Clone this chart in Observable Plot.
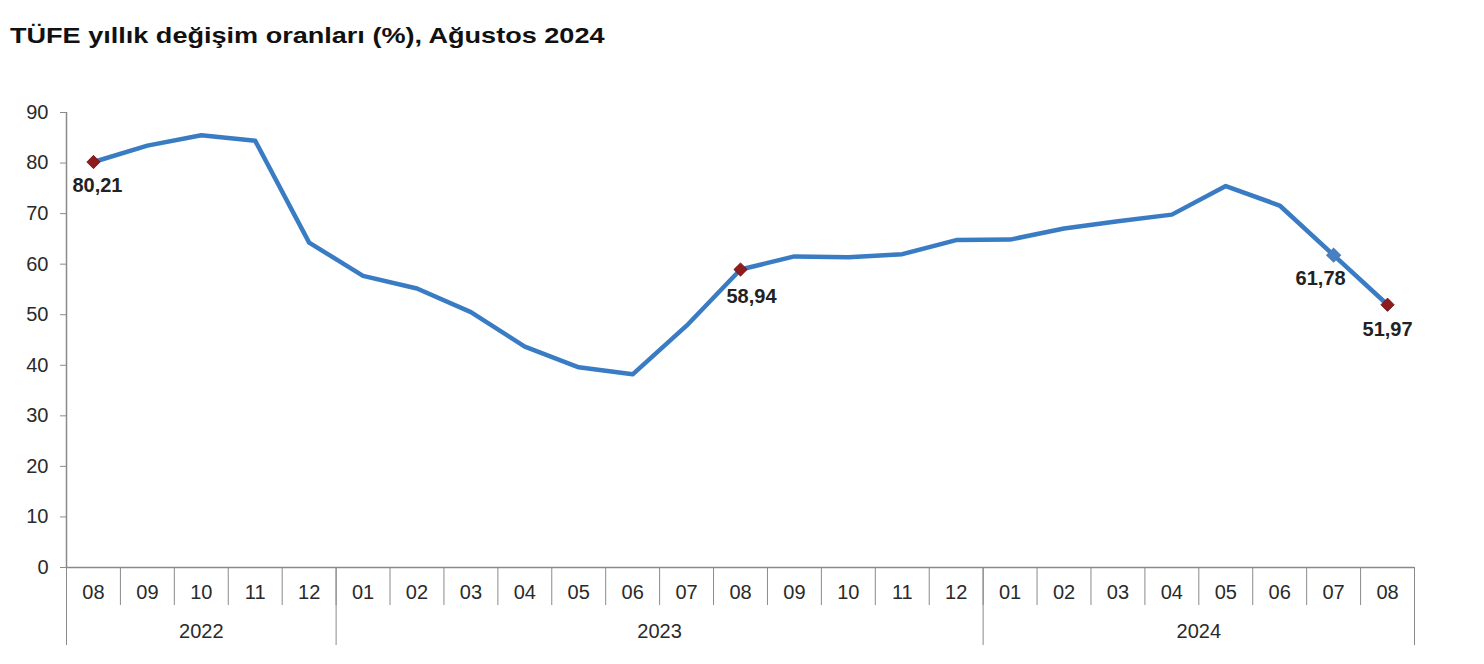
<!DOCTYPE html>
<html>
<head>
<meta charset="utf-8">
<script src="https://cdn.jsdelivr.net/npm/d3@7"></script>
<script src="https://cdn.jsdelivr.net/npm/@observablehq/plot@0.6"></script>
<style>
  html, body { margin: 0; padding: 0; background: #fff; }
  #title { height: 60px; box-sizing: border-box; padding: 23px 0 0 10px; white-space: nowrap; }
  #title span { display: inline-block; transform: scaleX(1.23); transform-origin: left center;
    font: bold 22px "Liberation Sans", Arial, sans-serif; color: #111; line-height: 26px; }
  #chart svg { display: block; }
</style>
</head>
<body>
<div id="title"><span>TÜFE yıllık değişim oranları (%), Ağustos 2024</span></div>
<div id="chart"></div>
<script>
const months = ["08","09","10","11","12","01","02","03","04","05","06","07","08","09","10","11","12","01","02","03","04","05","06","07","08"];
const values = [80.21,83.45,85.51,84.39,64.27,57.68,55.18,50.51,43.68,39.59,38.21,47.83,58.94,61.53,61.36,61.98,64.77,64.86,67.07,68.50,69.80,75.45,71.60,61.78,51.97];
const years = ["2022","2023","2024"];
const yearStart = [0, 5, 17];
const yearEnd = [4, 16, 24];
const yTicks = [0,10,20,30,40,50,60,70,80,90];

const data = values.map((v, i) => ({i, v, m: months[i]}));
const highlighted = [0, 12, 24];        // dark red markers
const blueMarked = [23];                 // blue marker
const labelled = [
  {i: 0, dx: 4, dy: 24},
  {i: 12, dx: 11, dy: 27},
  {i: 23, dx: -13, dy: 23},
  {i: 24, dx: 0, dy: 25}
];
const fmt = v => v.toFixed(2).replace(".", ",");

const sepTicks = d3.range(-0.5, 25, 1);
const yearSep = [-0.5, ...yearEnd.map(e => e + 0.5)];
const yearCenter = yearStart.map((s, k) => (s + yearEnd[k]) / 2);

const font = '"Liberation Sans", Arial, sans-serif';
const axisColor = "#8a8a8a";

const chart = Plot.plot({
  width: 1484,
  height: 604,
  marginLeft: 66,
  marginRight: 70,
  marginTop: 52,
  marginBottom: 97,
  style: {fontFamily: font, color: "#2a2a2a", background: "#fff"},
  x: {type: "linear", domain: [-0.5, 24.5]},
  y: {domain: [0, 90]},
  marks: [
    Plot.axisY({ticks: yTicks, tickSize: 6, tickPadding: 12, stroke: axisColor, fontSize: 20, fill: "#2a2a2a", label: null}),
    Plot.axisX({ticks: sepTicks, tickSize: 38, tickFormat: () => "", stroke: axisColor, label: null}),
    Plot.axisX({ticks: yearSep, tickSize: 78, tickFormat: () => "", stroke: axisColor, label: null}),
    Plot.axisX({ticks: d3.range(25), tickSize: 0, tickPadding: 17, tickFormat: i => months[i], fontSize: 20, fill: "#2a2a2a", label: null}),
    Plot.axisX({ticks: yearCenter, tickSize: 0, tickPadding: 56, tickFormat: (d, k) => years[k], fontSize: 20, fill: "#2a2a2a", label: null}),
    Plot.ruleX([-0.5], {stroke: axisColor, strokeWidth: 1.5}),
    Plot.ruleY([0], {stroke: axisColor, strokeWidth: 1.5}),
    Plot.line(data, {x: "i", y: "v", stroke: "#3a7cc3", strokeWidth: 4.5, strokeLinejoin: "round"}),
    Plot.dot(data.filter(d => blueMarked.includes(d.i)), {x: "i", y: "v", symbol: "square", rotate: 45, r: 5.3, fill: "#4a7fc0", stroke: "#4a7fc0"}),
    Plot.dot(data.filter(d => highlighted.includes(d.i)), {x: "i", y: "v", symbol: "square", rotate: 45, r: 5.3, fill: "#8e1c1c", stroke: "#6e1414", strokeWidth: 0.8}),
    ...labelled.map(l => Plot.text([data[l.i]], {x: "i", y: "v", text: d => fmt(d.v), dx: l.dx, dy: l.dy, fontSize: 20, fontWeight: "bold", fill: "#222"}))
  ]
});
document.getElementById("chart").appendChild(chart);
</script>
</body>
</html>
